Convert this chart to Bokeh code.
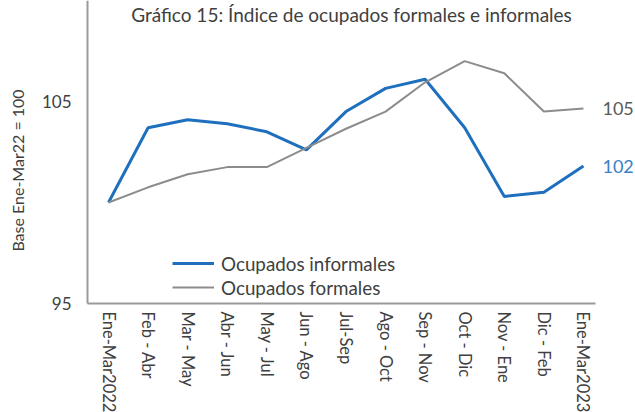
import math
from bokeh.plotting import figure
from bokeh.models import Range1d, FixedTicker, Legend, LegendItem, Label
from bokeh.embed import file_html
from bokeh.resources import INLINE

title_text = "Gráfico 15: Índice de ocupados formales e informales"
y_axis_title = "Base Ene-Mar22 = 100"
categories = ["Ene-Mar2022", "Feb - Abr", "Mar - May", "Abr - Jun", "May - Jul",
              "Jun - Ago", "Jul-Sep", "Ago - Oct", "Sep - Nov", "Oct - Dic",
              "Nov - Ene", "Dic - Feb", "Ene-Mar2023"]
informales = [100.0, 103.7, 104.1, 103.9, 103.5, 102.6, 104.5, 105.65, 106.1,
              103.7, 100.3, 100.5, 101.8]
formales = [100.0, 100.75, 101.4, 101.75, 101.75, 102.7, 103.65, 104.5, 105.95,
            107.0, 106.4, 104.5, 104.65]
y_ticks = [95, 105]
y_min, y_max = 95, 110.0
x_lo, x_hi = -0.53, 12.3

FONT = "Lato"
BLUE = "#1f6fbf"
GRAY = "#8c8c8c"
TXT = "#404040"
AXIS = "#9a9a9a"

xs = list(range(len(categories)))

p = figure(width=635, height=412, output_backend="svg", toolbar_location=None,
           x_range=Range1d(-2.729, 13.315), y_range=Range1d(89.6, y_max),
           min_border_left=0, min_border_right=0, min_border_top=0,
           min_border_bottom=0)
p.outline_line_color = None
p.background_fill_color = "white"
p.border_fill_color = "white"
p.xgrid.visible = False
p.ygrid.visible = False

r_inf = p.line(xs, informales, line_color=BLUE, line_width=3)
r_for = p.line(xs, formales, line_color=GRAY, line_width=2)

# x axis, drawn at y = 95 inside the frame
p.xaxis.fixed_location = y_min
p.xaxis.bounds = (x_lo, x_hi)
p.xaxis.ticker = FixedTicker(ticks=xs)
p.xaxis.major_label_overrides = {i: c for i, c in enumerate(categories)}
p.xaxis.major_label_orientation = "vertical"
p.xaxis.major_label_text_font = FONT
p.xaxis.major_label_text_font_size = "16.5px"
p.xaxis.major_label_text_color = TXT
p.xaxis.major_label_standoff = 8

# y axis, drawn at the left edge of the plot area inside the frame
p.yaxis.fixed_location = x_lo
p.yaxis.bounds = (y_min, y_max)
p.yaxis.ticker = FixedTicker(ticks=y_ticks)
p.yaxis.major_label_text_font = FONT
p.yaxis.major_label_text_font_size = "17px"
p.yaxis.major_label_text_color = TXT
p.yaxis.major_label_standoff = 16

for ax in (p.xaxis, p.yaxis):
    ax.axis_line_color = AXIS
    ax.axis_line_width = 2
    ax.major_tick_line_color = None
    ax.minor_tick_line_color = None
    ax.major_tick_out = 0
    ax.major_tick_in = 0
    ax.minor_tick_out = 0
    ax.minor_tick_in = 0

# y-axis title
p.add_layout(Label(x=17, y=242, x_units="screen", y_units="screen",
                   text=y_axis_title, angle=math.pi / 2, text_align="center",
                   text_baseline="middle", text_font=FONT,
                   text_font_size="16px", text_color=TXT))

# end-of-line value labels
p.add_layout(Label(x=xs[-1], y=formales[-1], text=f"{round(formales[-1])}",
                   x_offset=19, text_baseline="middle", text_font=FONT,
                   text_font_size="18px", text_color="#595959"))
p.add_layout(Label(x=xs[-1], y=informales[-1], text=f"{round(informales[-1])}",
                   x_offset=19, text_baseline="middle", text_font=FONT,
                   text_font_size="18px", text_color="#3a80c6"))

# chart title
p.add_layout(Label(x=351, y=410, x_units="screen", y_units="screen",
                   text=title_text, text_align="center", text_baseline="top",
                   text_font=FONT, text_font_size="19px", text_color=TXT))

legend = Legend(items=[LegendItem(label="Ocupados informales", renderers=[r_inf]),
                       LegendItem(label="Ocupados formales", renderers=[r_for])],
                location=(172, 113), padding=0, margin=0, spacing=0,
                glyph_width=42, glyph_height=24, label_height=24,
                label_standoff=7, label_text_font=FONT,
                label_text_font_size="18.8px", label_text_color=TXT,
                border_line_color=None, background_fill_alpha=0)
p.add_layout(legend)

open("out.html", "w").write(file_html(p, INLINE))
